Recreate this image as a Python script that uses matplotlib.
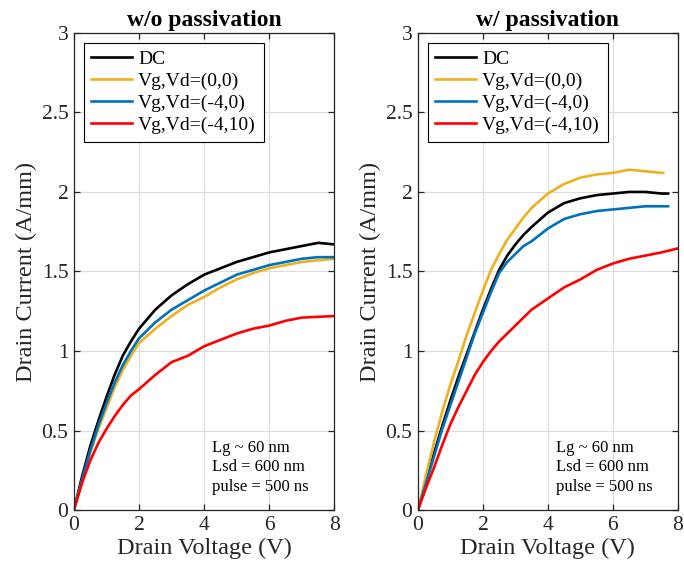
import matplotlib
matplotlib.use("Agg")
import matplotlib.pyplot as plt
from matplotlib.ticker import FormatStrFormatter

plt.rcParams["font.family"] = ["Liberation Serif", "DejaVu Serif"]

# ── colours (MATLAB default order) ──────────────────────────────────
BLACK  = "#000000"
YELLOW = "#EDB120"
BLUE   = "#0072BD"
RED    = "#FF0000"
AXC    = "#262626"

LABELS = ["DC", "Vg,Vd=(0,0)", "Vg,Vd=(-4,0)", "Vg,Vd=(-4,10)"]
COLORS = [BLACK, YELLOW, BLUE, RED]

# ── w/o passivation ─────────────────────────────────────────────────
vd_left = [0, 0.25, 0.5, 0.75, 1, 1.25, 1.5, 1.75, 2, 2.5, 3, 3.5, 4,
           4.5, 5, 5.5, 6, 6.5, 7, 7.5, 8]
dc_left = [0, 0.21, 0.40, 0.56, 0.71, 0.85, 0.97, 1.06, 1.14, 1.26, 1.35,
           1.42, 1.48, 1.52, 1.56, 1.59, 1.62, 1.64, 1.66, 1.68, 1.67]
p00_left = [0, 0.18, 0.36, 0.51, 0.64, 0.77, 0.88, 0.97, 1.05, 1.14, 1.22,
            1.29, 1.34, 1.40, 1.45, 1.49, 1.52, 1.54, 1.56, 1.57, 1.58]
p40_left = [0, 0.19, 0.37, 0.53, 0.67, 0.80, 0.91, 1.00, 1.08, 1.18, 1.26,
            1.32, 1.38, 1.43, 1.48, 1.51, 1.54, 1.56, 1.58, 1.59, 1.59]
p410_left = [0, 0.17, 0.31, 0.42, 0.51, 0.59, 0.66, 0.72, 0.76, 0.85, 0.93,
             0.97, 1.03, 1.07, 1.11, 1.14, 1.16, 1.19, 1.21, 1.215, 1.22]

# ── w/ passivation ──────────────────────────────────────────────────
vd_right = [0, 0.25, 0.5, 0.75, 1, 1.25, 1.5, 1.75, 2, 2.25, 2.5, 2.75, 3,
            3.25, 3.5, 4, 4.5, 5, 5.5, 6, 6.5, 7, 7.5]
dc_right = [0, 0.18, 0.36, 0.53, 0.69, 0.84, 0.98, 1.12, 1.26, 1.39, 1.51,
            1.60, 1.67, 1.73, 1.78, 1.87, 1.93, 1.96, 1.98, 1.99, 2.00, 2.00,
            1.99]
p00_right = [0, 0.22, 0.43, 0.62, 0.79, 0.94, 1.10, 1.24, 1.38, 1.51, 1.61,
             1.70, 1.77, 1.84, 1.90, 1.99, 2.05, 2.09, 2.11, 2.12, 2.14, 2.13,
             2.12]
p40_right = [0, 0.17, 0.34, 0.51, 0.66, 0.81, 0.96, 1.11, 1.24, 1.37, 1.49,
             1.56, 1.61, 1.66, 1.69, 1.77, 1.83, 1.86, 1.88, 1.89, 1.90, 1.91,
             1.91]
p410_right = [0, 0.14, 0.27, 0.41, 0.54, 0.65, 0.75, 0.85, 0.93, 1.00, 1.06,
              1.11, 1.16, 1.21, 1.26, 1.33, 1.40, 1.45, 1.51, 1.55, 1.58, 1.60,
              1.62]
# last measured points of each sweep
vd_end = [7.7, 7.55, 7.7, 8.0]
id_end = [1.99, 2.12, 1.91, 1.645]

NOTE = "Lg ~ 60 nm\nLsd = 600 nm\npulse = 500 ns"

fig = plt.figure(figsize=(6.84, 5.77), dpi=100)
ax_l = fig.add_axes([0.108, 0.116, 0.381, 0.827])
ax_r = fig.add_axes([0.611, 0.116, 0.380, 0.827])


def style(ax, title):
    ax.set_xlim(0, 8)
    ax.set_ylim(0, 3)
    ax.set_xticks([0, 2, 4, 6, 8])
    ax.set_yticks([0, 0.5, 1, 1.5, 2, 2.5, 3])
    ax.yaxis.set_major_formatter(FormatStrFormatter("%g"))
    ax.grid(True, color="#dcdcdc", lw=0.8)
    ax.set_axisbelow(True)
    for sp in ax.spines.values():
        sp.set_color(AXC)
        sp.set_linewidth(0.9)
    ax.tick_params(direction="in", length=4, width=0.9, colors=AXC,
                   labelsize=15.5, top=True, right=True, pad=4)
    ax.set_xlabel("Drain Voltage (V)", fontsize=17.5, color=AXC, labelpad=2)
    ax.set_ylabel("Drain Current (A/mm)", fontsize=17.5, color=AXC, labelpad=3)
    ax.set_title(title, fontsize=17, fontweight="bold", pad=5)
    ax.text(4.25, 0.27, NOTE, fontsize=12, va="center", ha="left",
            linespacing=1.3, color=BLACK)
    ax.legend(loc="upper left", fontsize=14, fancybox=False,
              edgecolor=BLACK, framealpha=1, handlelength=2.1,
              handletextpad=0.3, labelspacing=0.22, borderaxespad=0.5,
              borderpad=0.4).get_frame().set_linewidth(0.8)


LW = 1.9
for y, c, lab in zip([dc_left, p00_left, p40_left, p410_left], COLORS, LABELS):
    ax_l.plot(vd_left, y, color=c, lw=LW, label=lab)

series_right = [dc_right, p00_right, p40_right, p410_right]
for y, xe, ye, c, lab in zip(series_right, vd_end, id_end, COLORS, LABELS):
    ax_r.plot(vd_right + [xe], y + [ye], color=c, lw=LW, label=lab)

style(ax_l, "w/o passivation")
style(ax_r, "w/ passivation")

fig.savefig("out.png", dpi=100)
